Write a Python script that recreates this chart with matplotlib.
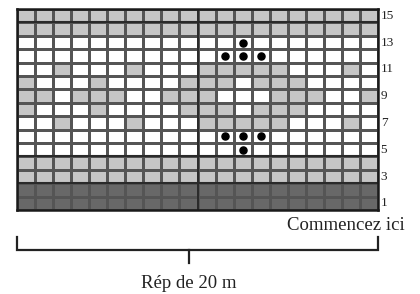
import matplotlib
matplotlib.use("Agg")
import matplotlib.pyplot as plt
import numpy as np
from matplotlib.colors import ListedColormap

n_cols = 20
n_rows = 15
# chart rows, listed from row 15 (top) down to row 1; '.' white, '#' light grey, 'D' dark grey
row_patterns = [
    "####################",  # 15
    "####################",  # 14
    "....................",  # 13
    "....................",  # 12
    "..#...#...#####...#.",  # 11
    "#...#....###.###....",  # 10
    "##.###..###...###..#",  # 9
    "#...#....###.###....",  # 8
    "..#...#...#####...#.",  # 7
    "....................",  # 6
    "....................",  # 5
    "####################",  # 4
    "####################",  # 3
    "DDDDDDDDDDDDDDDDDDDD",  # 2
    "DDDDDDDDDDDDDDDDDDDD",  # 1
]
dot_cols = [13, 12, 13, 14, 12, 13, 14, 13]
dot_rows = [13, 12, 12, 12, 6, 6, 6, 5]
row_labels = [1, 3, 5, 7, 9, 11, 13, 15]
start_label = "Commencez ici"
repeat_label = "Rép de 20 m"

code = {".": 0, "#": 1, "D": 2}
grid = np.array([[code[c] for c in r] for r in row_patterns[::-1]])  # index 0 = row 1

W, H = 420, 294
fig = plt.figure(figsize=(W / 100, H / 100), dpi=100)
fig.patch.set_facecolor("white")

gx0, gx1, gy0, gy1 = 17, 378, 9, 210
ax = fig.add_axes([gx0 / W, 1 - gy1 / H, (gx1 - gx0) / W, (gy1 - gy0) / H])
cmap = ListedColormap(["#ffffff", "#c6c6c6", "#686868"])
ax.pcolormesh(np.arange(n_cols + 1), np.arange(n_rows + 1), grid, cmap=cmap,
              vmin=0, vmax=2, edgecolors="#555555", linewidth=0.9)
ax.set_xlim(0, n_cols)
ax.set_ylim(0, n_rows)
ax.set_xticks([])
ax.set_yticks([])
for s in ax.spines.values():
    s.set_linewidth(1.8)
    s.set_color("#1a1a1a")

for yy in [2, 4, 14]:
    ax.axhline(yy, color="#2a2a2a", lw=1.5)
ax.axvline(10, color="#2a2a2a", lw=1.4)

ax.scatter(np.array(dot_cols) - 0.5, np.array(dot_rows) - 0.5, s=26, color="black", zorder=5)

serif = ["Liberation Serif", "DejaVu Serif"]
for r in row_labels:
    ax.text(n_cols + 0.15, r - 0.5, str(r), ha="left", va="center", fontsize=9.5,
            family=serif, color="#222222", clip_on=False)

ov = fig.add_axes([0, 0, 1, 1])
ov.set_xlim(0, W)
ov.set_ylim(H, 0)
ov.axis("off")
ov.patch.set_alpha(0)
ov.text(405, 225, start_label, ha="right", va="center", fontsize=13.5, family=serif, color="#222222")
ov.plot([17, 17, 378, 378], [237, 250, 250, 237], color="#222222", lw=1.6, solid_joinstyle="miter")
ov.plot([189, 189], [250, 263], color="#222222", lw=1.6)
ov.text(189, 283, repeat_label, ha="center", va="center", fontsize=13.5, family=serif, color="#222222")

fig.savefig("out.png", dpi=100)
